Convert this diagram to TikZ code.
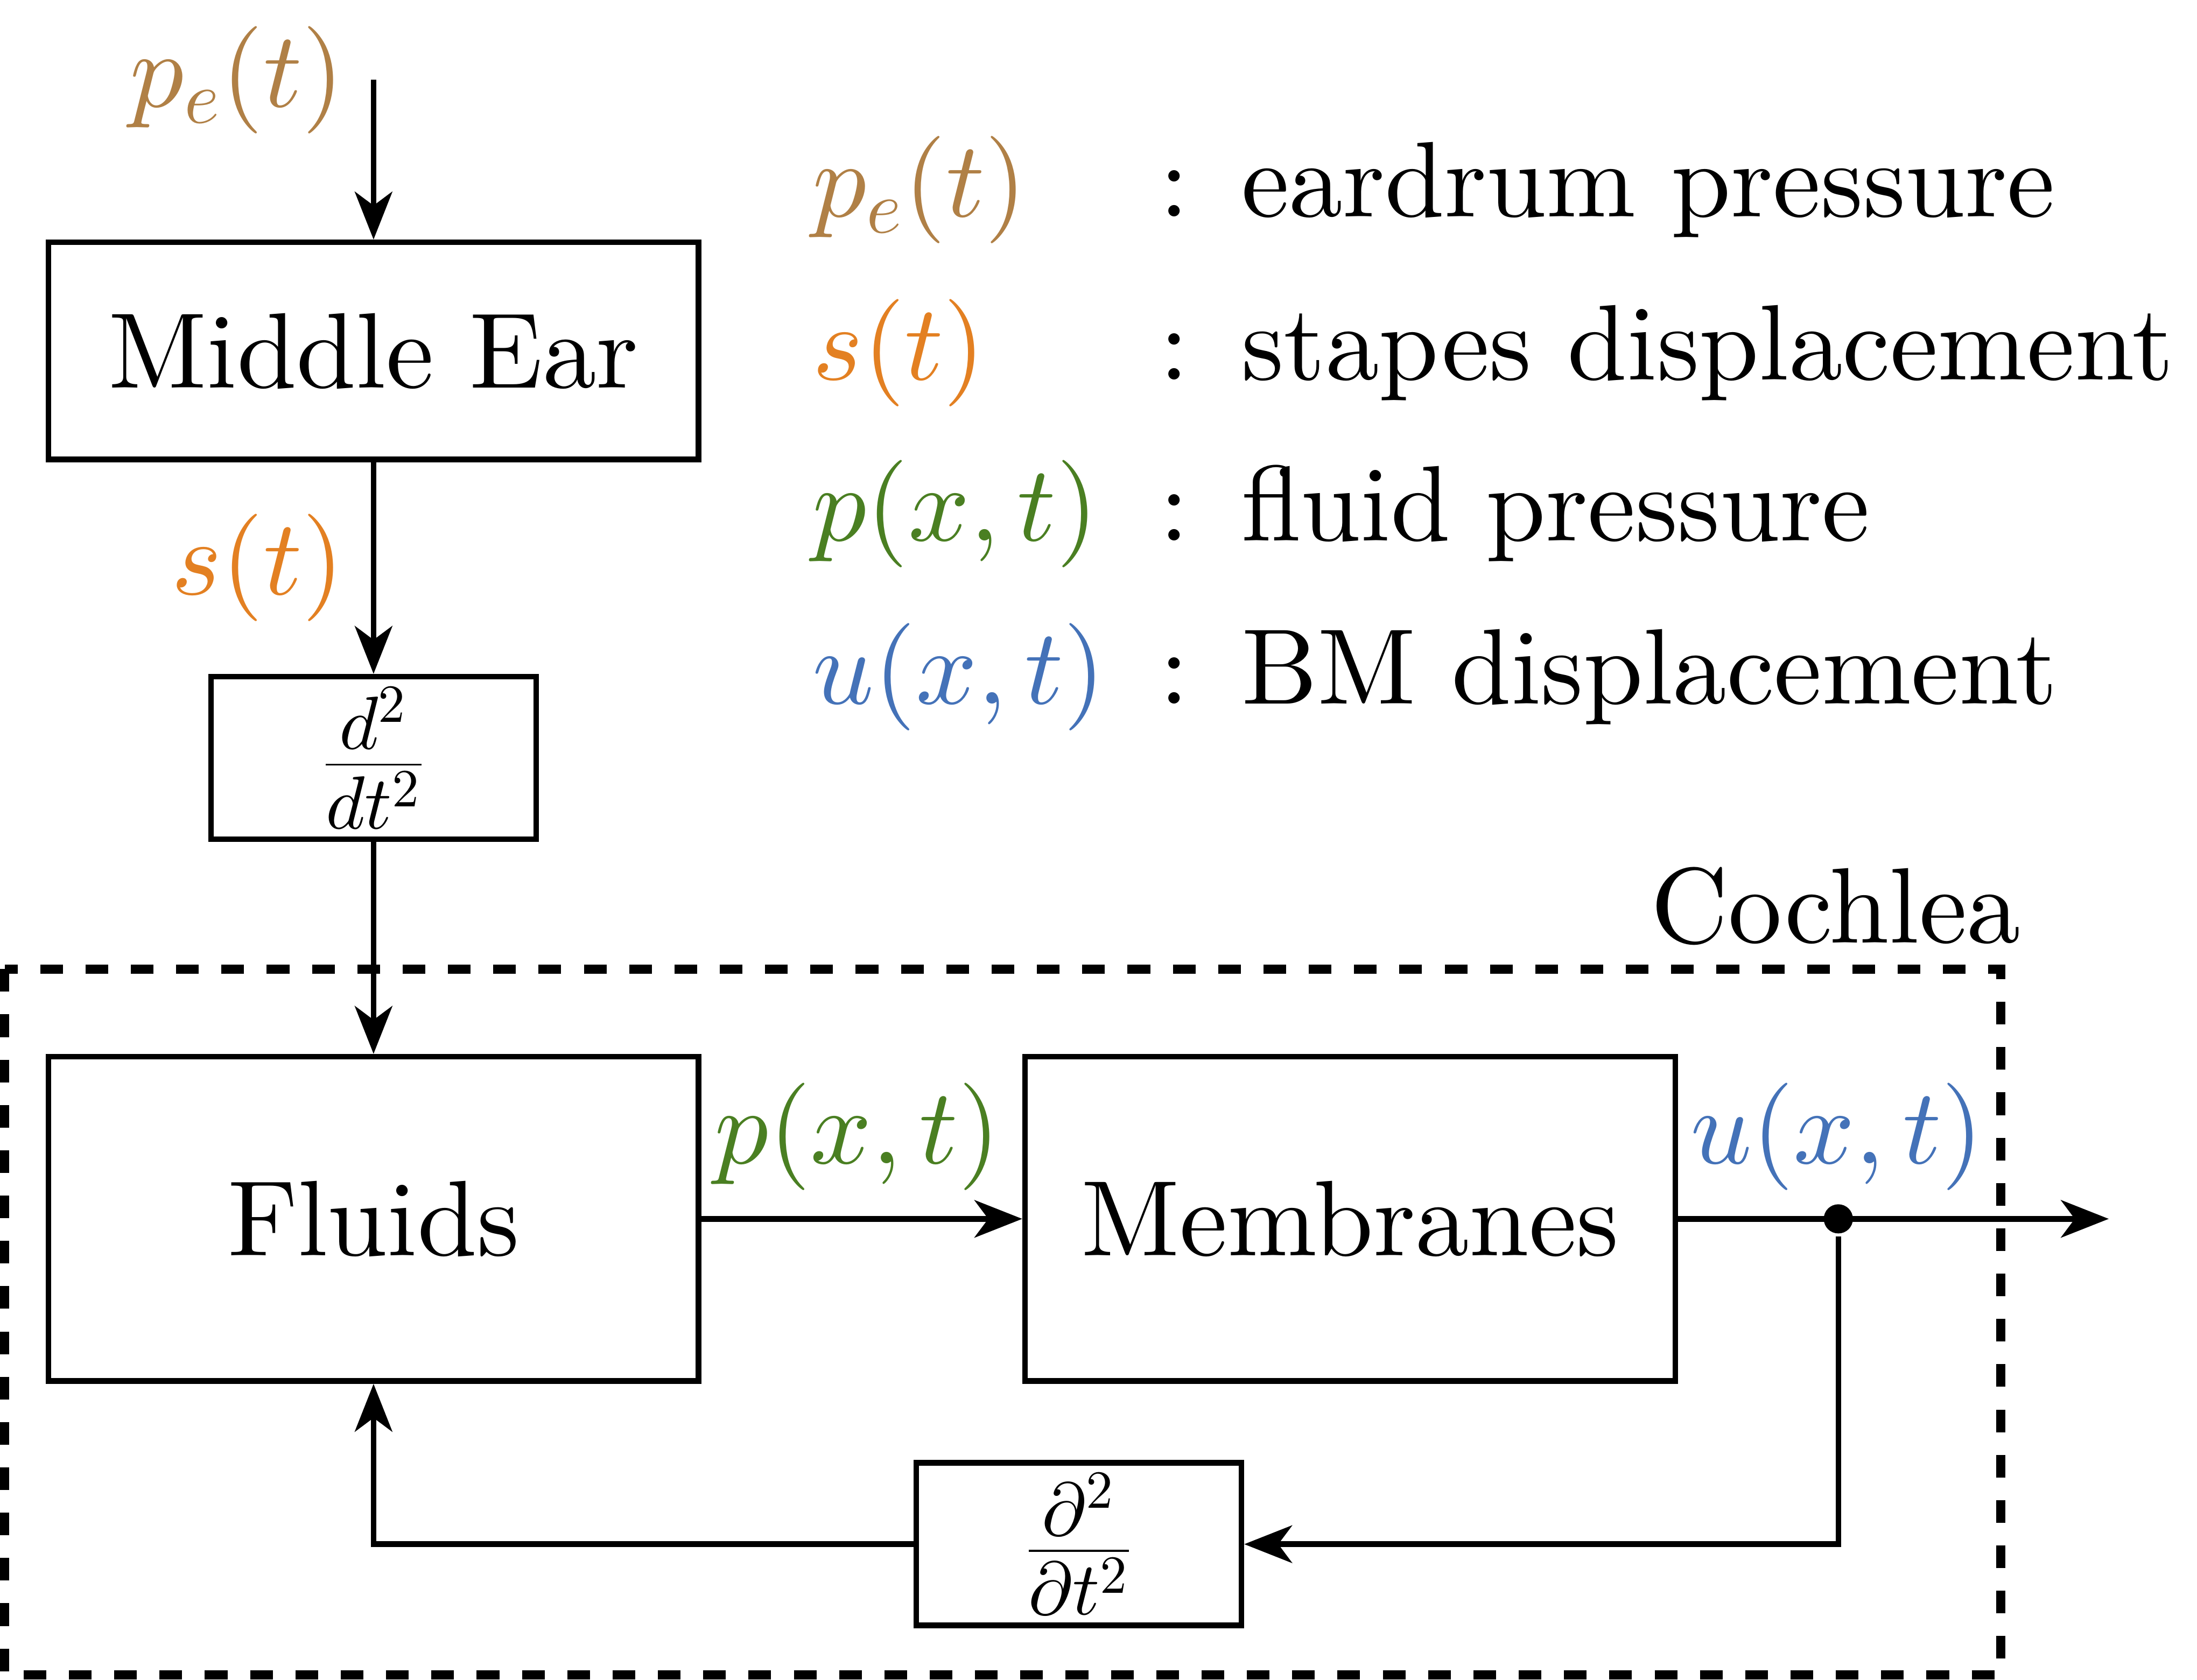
\documentclass[tikz,border=0pt]{standalone}
\usepackage[no-math]{fontspec}
\setmainfont{lmroman10-regular}[Extension=.otf, Ligatures=TeX]
\DeclareFontShape{OML}{cmm}{m}{it}{<-> cmmi10}{}
\DeclareFontShape{OT1}{cmr}{m}{n}{<-> cmr10}{}
\DeclareFontShape{OMS}{cmsy}{m}{n}{<-> cmsy10}{}
\usetikzlibrary{arrows.meta,positioning,calc}

\definecolor{peclr}{HTML}{B08046}
\definecolor{sclr}{HTML}{E38022}
\definecolor{pclr}{HTML}{4A7F22}
\definecolor{uclr}{HTML}{4472B8}

\tikzset{
    bigblock/.style={draw, line width=1.15pt, inner sep=0pt, minimum width=4.64cm, minimum height=2.315cm},
    smallblock/.style={draw, line width=1.15pt, inner sep=0pt, minimum width=2.32cm, minimum height=1.16cm},
    cochleabox/.style={draw, line width=1.8pt, dash pattern=on 4.6pt off 4.6pt},
    tap/.style={circle, fill, inner sep=0pt, minimum size=0.208cm},
    sig/.style={inner sep=0pt}
}

\begin{document}
\begin{tikzpicture}[font=\fontsize{21.8}{26}\selectfont, line width=1.15pt, >={Stealth[length=9.7pt,width=7.6pt,inset=2.8pt]}]

        \useasboundingbox (0,0) rectangle (15.68,-11.99);

        \draw[cochleabox] (0.033,-6.917) rectangle (14.28,-11.955);
        \node[sig, anchor=base east] (cochlea) at (14.44,-6.729) {Cochlea};

        \node[bigblock, minimum height=1.55cm] (midear) at (2.666,-2.505) {Middle Ear};
        \node[smallblock] (ddt) at (2.666,-5.41) {$\frac{d^2}{dt^2}$};
        \node[bigblock] (fluids) at (2.666,-8.70) {Fluids};
        \node[bigblock] (membranes) at (9.636,-8.70) {Membranes};
        \node[smallblock] (pdt) at (7.70,-11.022) {$\frac{\partial^2}{\partial t^2}$};
        \node[tap] (tap) at (13.12,-8.70) {};

        \coordinate (pin) at (2.666,-0.57);
        \coordinate (uout) at (15.05,-8.70);

        \node[sig, anchor=east, text=peclr] (pelabel) at (2.475,-0.57) {$p_e(t)$};
        \node[sig, anchor=east, text=sclr] (slabel) at (2.475,-4.054) {$s(t)$};
        \node[sig, text=pclr] (plabel) at (6.12,-8.115) {$p(x,t)$};
        \node[sig, text=uclr] (ulabel) at (13.11,-8.115) {$u(x,t)$};

        \draw[->] (pin) -- (midear);
        \draw[->] (midear) -- (ddt);
        \draw[->] (ddt) -- (fluids);
        \draw[->] (fluids) -- (membranes);
        \draw[->] (membranes) -- (uout);
        \draw[->] (tap) |- (pdt);
        \draw[->] (pdt) -| (fluids);

        % legend
        \node[sig, anchor=base west, text=peclr] (legpe) at (5.78,-1.548) {$p_e(t)$};
        \node[sig, anchor=base] (colpe) at (8.38,-1.548) {:};
        \node[sig, anchor=base west] (txtpe) at (8.84,-1.548) {eardrum pressure};

        \node[sig, anchor=base west, text=sclr] (legs) at (5.78,-2.709) {$s(t)$};
        \node[sig, anchor=base] (cols) at (8.38,-2.709) {:};
        \node[sig, anchor=base west] (txts) at (8.84,-2.709) {stapes displacement};

        \node[sig, anchor=base west, text=pclr] (legp) at (5.78,-3.861) {$p(x,t)$};
        \node[sig, anchor=base] (colp) at (8.38,-3.861) {:};
        \node[sig, anchor=base west] (txtp) at (8.84,-3.861) {fluid pressure};

        \node[sig, anchor=base west, text=uclr] (legu) at (5.78,-5.025) {$u(x,t)$};
        \node[sig, anchor=base] (colu) at (8.38,-5.025) {:};
        \node[sig, anchor=base west] (txtu) at (8.84,-5.025) {BM displacement};

    \end{tikzpicture}
\end{document}
